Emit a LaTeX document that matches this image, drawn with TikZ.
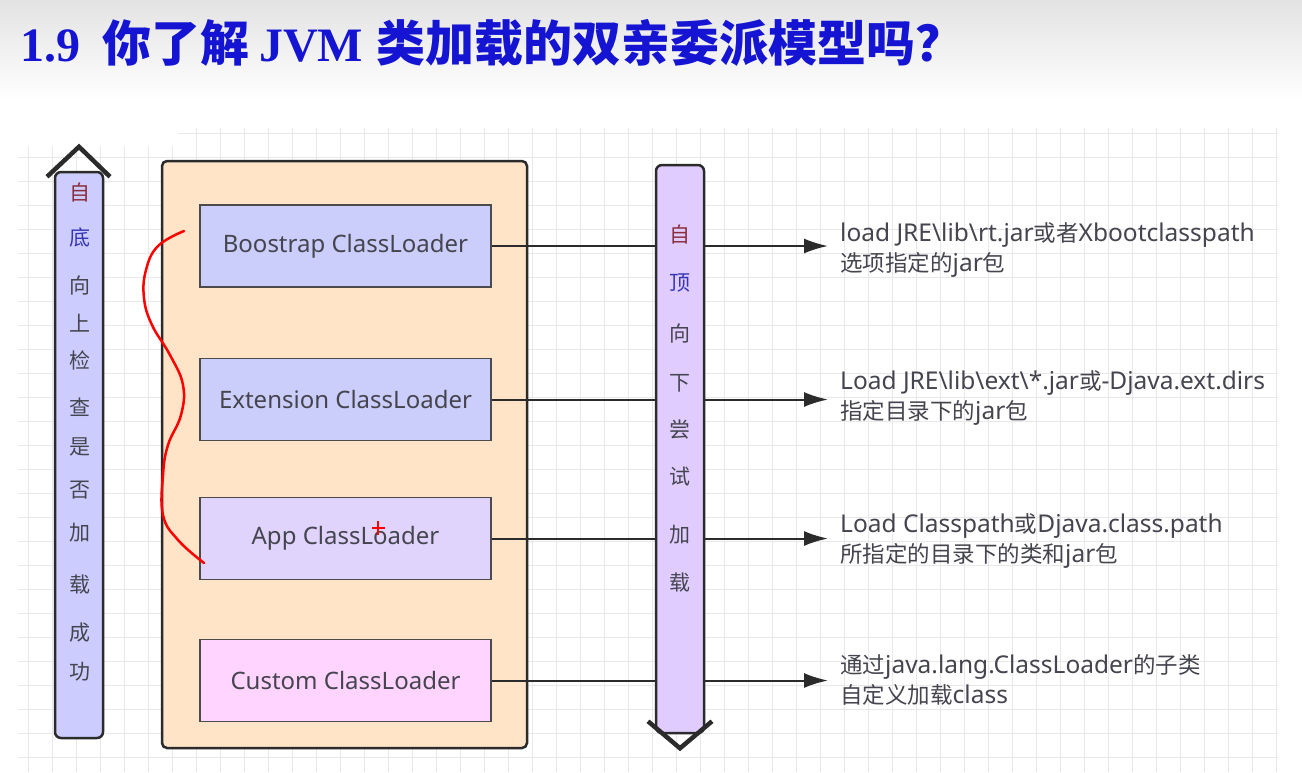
\documentclass[tikz,border=0pt]{standalone}
\usepackage{fontspec}
\usetikzlibrary{arrows.meta}
\newfontfamily\cjk{Noto Sans CJK SC}
\newfontfamily\lat{Noto Sans}
\newfontfamily\tser{Liberation Serif}
\newcommand\lw[1]{{\lat\fontsize{24.5}{30}\selectfont #1}}
\definecolor{titleblue}{HTML}{1414D2}
\definecolor{peach}{HTML}{FFE4C8}
\definecolor{loaderblue}{HTML}{CBCDFA}
\definecolor{loaderpurple}{HTML}{E0D4FC}
\definecolor{loaderpink}{HTML}{FFD4FF}
\definecolor{upblue}{HTML}{CCCCFF}
\definecolor{downpurple}{HTML}{E0CCFF}
\definecolor{textgrey}{HTML}{45454F}
\definecolor{gridgrey}{HTML}{E8E8E8}
\definecolor{edge}{HTML}{2B2B2B}
\definecolor{firstred}{HTML}{8B2F3F}
\definecolor{secondblue}{HTML}{3535B5}
\tikzset{
	loader/.style={draw=edge!85, line width=1.5pt, minimum width=291pt, minimum height=82pt, font=\lat\fontsize{24}{28}\selectfont, text=textgrey},
	note/.style={anchor=west, align=left, inner sep=0pt, font=\cjk\fontsize{22.5}{30}\selectfont, text=textgrey},
	pole/.style={draw=edge, line width=2.5pt, rounded corners=6pt, minimum width=48pt},
	polechar/.style={font=\cjk\fontsize{21}{21}\selectfont, inner sep=0pt},
	chevron/.style={edge, line width=4.5pt, line join=miter},
	feed/.style={draw=edge, line width=2pt, shorten >=12pt, -{Latex[length=24pt,width=15pt]}},
}
\begin{document}
\begin{tikzpicture}[x=1pt,y=-1pt]
	\useasboundingbox (0,0) rectangle (1302,772);
	\fill[white] (0,0) rectangle (1302,772);
	\shade[top color=black!11, bottom color=white] (0,0) rectangle (1302,100);
	\begin{scope}
		\clip (18,146) -- (178,146) -- (178,128) -- (1278,128) -- (1278,772) -- (18,772) -- cycle;
		\foreach \k in {0,...,52}
			\draw[gridgrey, line width=1pt] ({28+24*\k},120) -- ({28+24*\k},772);
		\foreach \k in {0,...,26}
			\draw[gridgrey, line width=1pt] (18,{133+24*\k}) -- (1278,{133+24*\k});
	\end{scope}
	\node[anchor=base west, inner sep=0pt, text=titleblue] (title) at (20,61) {\tser\bfseries\fontsize{48}{52}\selectfont 1.9\hspace{22pt}{\cjk\fontsize{49}{52}\selectfont 你了解}\hspace{10pt}JVM\hspace{13pt}{\cjk\fontsize{49}{52}\selectfont 类加载的双亲委派模型吗？}};
	\draw[edge, line width=2.5pt, fill=peach, rounded corners=5pt] (162,161) rectangle (527,748);
	\node[loader, fill=loaderblue] (boot) at (345.5,246) {Boostrap ClassLoader};
	\node[loader, fill=loaderblue] (ext) at (345.5,399.5) {Extension ClassLoader};
	\node[loader, fill=loaderpurple] (app) at (345.5,538.5) {App ClassLoader};
	\node[loader, fill=loaderpink] (custom) at (345.5,680.5) {Custom ClassLoader};
	\node[note] (bootnote) at (840,250) {\lw{load JRE\textbackslash lib\textbackslash rt.jar}或者\lw{Xbootclasspath}\\选项指定的\lw{jar}包};
	\node[note] (extnote) at (840,398) {\lw{Load JRE\textbackslash lib\textbackslash ext\textbackslash *.jar}或\lw{-Djava.ext.dirs}\\指定目录下的\lw{jar}包};
	\node[note] (appnote) at (840,541) {\lw{Load Classpath}或\lw{Djava.class.path}\\所指定的目录下的类和\lw{jar}包};
	\node[note] (customnote) at (840,680) {通过\lw{java.lang.ClassLoader}的子类\\自定义加载\lw{class}};
	\foreach \src/\dst in {boot/bootnote, ext/extnote, app/appnote, custom/customnote}
		\draw[feed] (\src.east) -- (\src.east -| \dst.west);
	\node[pole, fill=upblue, minimum height=566pt] (up) at (79,455) {};
	\draw[chevron] ([shift={(-32,6)}]up.north) -- ([shift={(0,-24)}]up.north) -- ([shift={(31,6)}]up.north);
	\foreach \c/\y/\col [count=\i] in {自/193/firstred, 底/238/secondblue, 向/285/textgrey, 上/323/textgrey, 检/360/textgrey, 查/407/textgrey, 是/447/textgrey, 否/490/textgrey, 加/533/textgrey, 载/585/textgrey, 成/633/textgrey, 功/672/textgrey}
		\node[polechar, text=\col] (upc\i) at (80,\y) {\c};
	\node[pole, fill=downpurple, minimum height=568pt] (down) at (680,449) {};
	\draw[chevron] ([shift={(-32,-13)}]down.south) -- ([shift={(0,14)}]down.south) -- ([shift={(32,-13)}]down.south);
	\foreach \c/\y/\col [count=\i] in {自/235/firstred, 顶/283/secondblue, 向/333/textgrey, 下/383/textgrey, 尝/430/textgrey, 试/477/textgrey, 加/535/textgrey, 载/583/textgrey}
		\node[polechar, text=\col] (downc\i) at (680,\y) {\c};
	\draw[red, line width=2.5pt, line cap=round] plot[smooth, tension=0.7] coordinates {(184,231) (158,246) (146,270) (144,298) (152,325) (170,355) (183,385) (181,415) (168,445) (163,475) (163,515) (178,540) (204,563)};
	\draw[red, line width=1.5pt] (372,528) -- (385,528) (378,521) -- (378,535);
\end{tikzpicture}
\end{document}
